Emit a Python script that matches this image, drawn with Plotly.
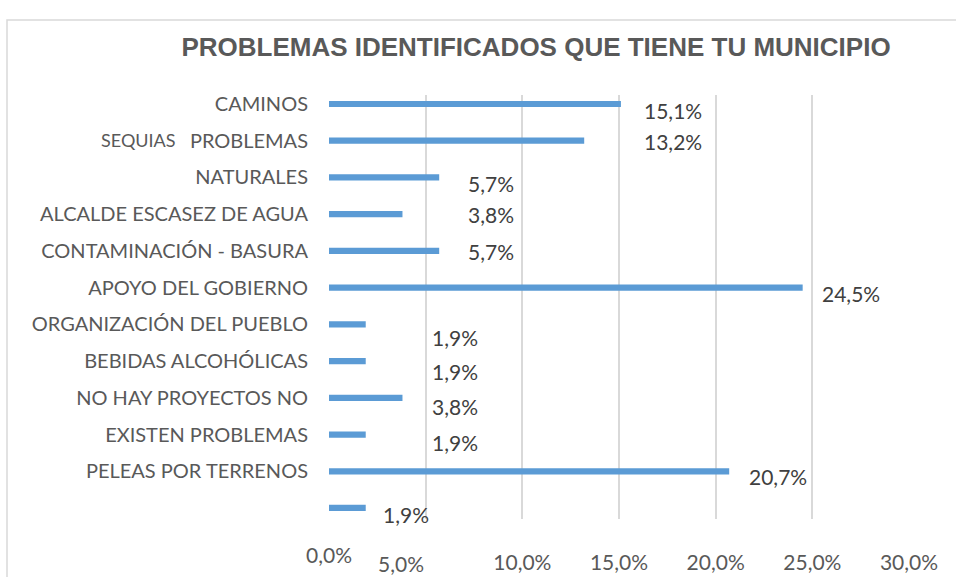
import plotly.graph_objects as go

# ---- data ----
categories = ["CAMINOS", "PROBLEMAS", "NATURALES", "ALCALDE ESCASEZ DE AGUA",
              "CONTAMINACIÓN - BASURA", "APOYO DEL GOBIERNO", "ORGANIZACIÓN DEL PUEBLO",
              "BEBIDAS ALCOHÓLICAS", "NO HAY PROYECTOS NO", "EXISTEN PROBLEMAS",
              "PELEAS POR TERRENOS", ""]
values = [15.1, 13.2, 5.7, 3.8, 5.7, 24.5, 1.9, 1.9, 3.8, 1.9, 20.7, 1.9]
x_ticks = [0, 5, 10, 15, 20, 25, 30]
x_tick_labels = ["0,0%", "5,0%", "10,0%", "15,0%", "20,0%", "25,0%", "30,0%"]
extra_label = "SEQUIAS"
title_text = "PROBLEMAS IDENTIFICADOS QUE TIENE TU MUNICIPIO"

# ---- label placement (layout, not data) ----
label_x = [16.2, 16.2, 7.1, 7.1, 7.1, 25.4, 5.2, 5.2, 5.2, 5.2, 21.6, 2.7]
label_dy = [6, 1, 6, 0, 1, 6, 13, 10, 9, 8, 5, 7]

FONT = "Lato"
TXT = "#595959"
W, H = 956, 577
L, R, T, B = 329, 47, 95, 58
pw, ph = W - L - R, H - T - B

pos = list(range(len(categories)))

fig = go.Figure(go.Bar(
    x=values, y=pos, orientation="h",
    marker=dict(color="#5B9BD5", line=dict(width=0)),
    width=0.17, hoverinfo="skip"))

ann = []
for i, v in enumerate(values):
    ann.append(dict(x=label_x[i], y=i, xref="x", yref="y",
                    text=f"{v:.1f}%".replace(".", ","), showarrow=False,
                    xanchor="left", yanchor="middle", yshift=-label_dy[i],
                    font=dict(family=FONT, size=21, color="#404040")))

# x tick labels (0 and 5 are displaced in the reference)
ann.append(dict(x=x_ticks[0], y=0, xref="x", yref="paper", text=x_tick_labels[0],
                showarrow=False, xanchor="center", yanchor="middle", yshift=-35,
                font=dict(family=FONT, size=21, color=TXT)))
ann.append(dict(x=x_ticks[1], y=0, xref="x", yref="paper", text=x_tick_labels[1],
                showarrow=False, xanchor="right", yanchor="middle", yshift=-44,
                font=dict(family=FONT, size=21, color=TXT)))

# extra "SEQUIAS" label
ann.append(dict(x=(178 - L) / pw, y=1, xref="paper", yref="y", text=extra_label,
                showarrow=False, xanchor="right", yanchor="middle", yshift=1,
                font=dict(family=FONT, size=18, color=TXT)))

shapes = [dict(type="rect", xref="paper", yref="paper",
               x0=(7 - L) / pw, x1=(W + 20 - L) / pw,
               y0=-(B + 30) / ph, y1=(H - 20 - B) / ph,
               line=dict(color="#D9D9D9", width=1.5), layer="below")]

fig.update_layout(
    width=W, height=H,
    margin=dict(l=L, r=R, t=T, b=B),
    paper_bgcolor="white", plot_bgcolor="white",
    title=dict(text=f"<b>{title_text}</b>", x=536 / W, xanchor="center",
               y=1 - 47 / H, yanchor="middle",
               font=dict(family="Liberation Sans", size=26, color=TXT)),
    xaxis=dict(range=[0, 30], tickvals=x_ticks,
               ticktext=["", ""] + x_tick_labels[2:],
               showgrid=True, gridcolor="#D9D9D9", gridwidth=1.5,
               zeroline=False, showline=False, ticks="", automargin=False,
               ticklabelstandoff=29,
               tickfont=dict(family=FONT, size=21, color=TXT)),
    yaxis=dict(range=[11.3, -0.245], tickvals=pos, ticktext=categories,
               showgrid=False, zeroline=False, showline=False, ticks="",
               automargin=False, ticklabelstandoff=20,
               tickfont=dict(family=FONT, size=20, color=TXT)),
    annotations=ann, shapes=shapes, showlegend=False,
    bargap=0.8,
)

fig.write_html("out.html", config={"displayModeBar": False},
               post_script="document.body.style.margin='0';")
